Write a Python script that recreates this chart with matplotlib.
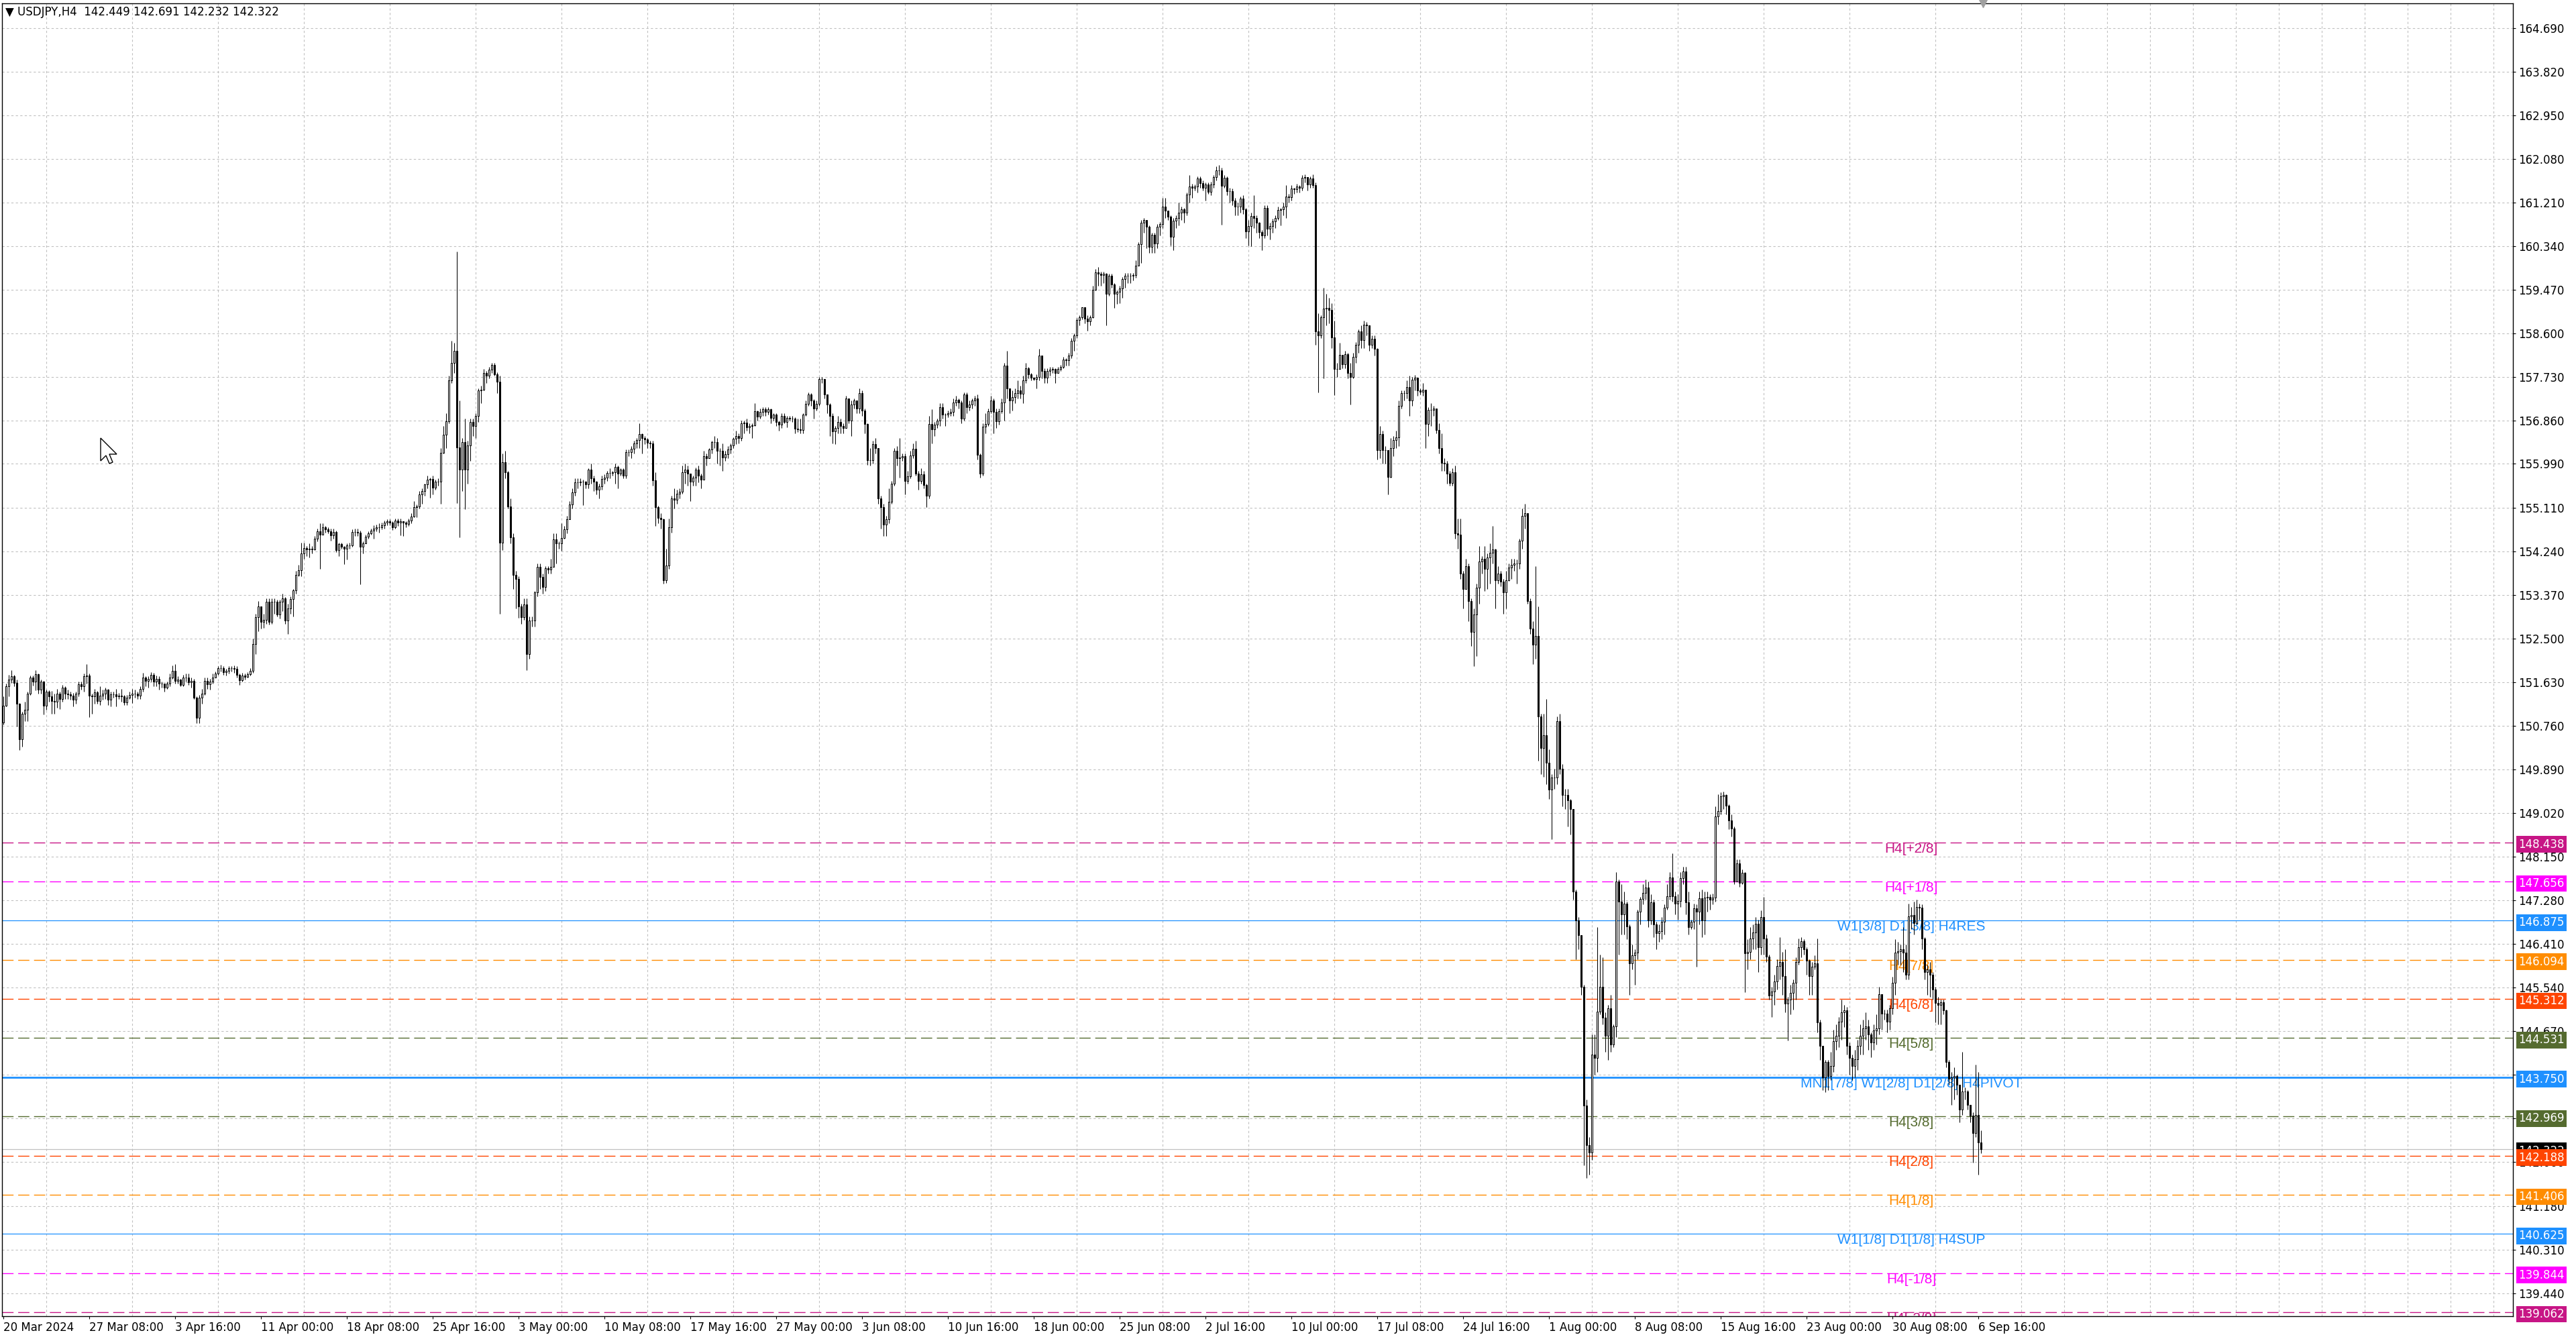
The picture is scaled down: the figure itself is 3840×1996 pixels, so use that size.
import matplotlib
matplotlib.use('Agg')
from matplotlib import pyplot as plt
from matplotlib.patches import Polygon
from matplotlib.transforms import IdentityTransform

# USDJPY H4 candles, 20 Mar 2024 00:00 .. 6 Sep 2024 20:00
first_open = 150.83

closes = [
    151.17,151.55,151.69,151.75,151.62,151.21,150.50,151.00,151.09,151.41,
    151.73,151.64,151.79,151.49,151.64,151.17,151.44,151.35,151.26,151.25,
    151.41,151.30,151.53,151.41,151.39,151.37,151.28,151.41,151.59,151.55,
    151.75,151.77,151.37,151.35,151.43,151.26,151.37,151.40,151.48,151.28,
    151.39,151.39,151.35,151.36,151.35,151.23,151.33,151.38,151.40,151.41,
    151.36,151.50,151.72,151.66,151.70,151.78,151.65,151.70,151.60,151.60,
    151.53,151.60,151.73,151.86,151.66,151.68,151.58,151.73,151.73,151.63,
    151.66,151.33,150.92,151.33,151.41,151.66,151.59,151.64,151.73,151.80,
    151.92,151.92,151.84,151.86,151.92,151.91,151.90,151.78,151.67,151.77,
    151.74,151.79,151.86,152.40,152.93,153.15,152.84,152.88,153.24,152.84,
    153.24,153.24,152.98,153.24,153.30,152.87,153.11,153.29,153.47,153.78,
    153.87,154.20,154.31,154.28,154.30,154.28,154.50,154.65,154.58,154.72,
    154.68,154.65,154.57,154.63,154.27,154.39,154.33,154.30,154.36,154.37,
    154.63,154.63,154.62,154.33,154.40,154.54,154.60,154.66,154.70,154.73,
    154.73,154.76,154.82,154.85,154.82,154.73,154.86,154.82,154.85,154.82,
    154.79,154.86,154.94,155.12,155.14,155.38,155.45,155.58,155.68,155.69,
    155.51,155.64,155.64,156.21,156.57,156.84,157.65,158.00,158.25,156.32,
    155.88,156.42,155.87,156.36,156.83,156.75,156.95,157.45,157.47,157.81,
    157.75,157.87,157.96,157.78,157.63,154.42,156.03,155.82,155.14,154.52,
    153.77,153.69,153.15,152.93,153.19,152.20,152.87,152.87,153.42,153.93,
    153.73,153.53,153.91,153.88,153.94,154.48,154.40,154.40,154.51,154.69,
    154.88,155.18,155.42,155.62,155.62,155.63,155.63,155.58,155.87,155.70,
    155.63,155.48,155.54,155.69,155.72,155.81,155.81,155.82,155.93,155.80,
    155.87,155.76,156.22,156.22,156.29,156.40,156.47,156.59,156.50,156.48,
    156.41,156.40,155.66,155.12,154.91,154.88,153.67,153.96,154.73,155.30,
    155.27,155.40,155.44,155.82,155.87,155.79,155.63,155.71,155.87,155.76,
    155.68,156.15,156.11,156.28,156.43,156.43,156.25,156.25,156.12,156.19,
    156.28,156.36,156.49,156.55,156.50,156.80,156.81,156.72,156.74,156.76,
    157.04,156.94,157.03,157.08,157.03,157.08,156.91,156.98,156.83,156.77,
    156.95,156.82,156.91,156.90,156.90,156.69,156.68,156.67,156.97,157.19,
    157.38,157.26,157.10,157.19,157.69,157.69,157.37,157.18,156.95,156.64,
    156.70,156.82,156.75,156.70,157.30,156.86,157.18,157.25,157.09,157.40,
    157.06,156.78,156.06,156.06,156.39,156.30,155.30,155.13,154.78,154.88,
    155.23,155.60,156.25,156.10,156.12,156.14,155.65,155.74,156.16,156.29,
    155.80,155.65,155.78,155.57,155.36,156.78,156.68,156.77,156.86,157.12,
    156.98,156.98,157.00,157.03,157.22,157.27,157.22,156.89,157.38,157.12,
    157.18,157.25,157.30,156.17,155.80,156.73,156.79,157.04,157.26,157.03,
    156.84,157.04,157.22,157.95,157.49,157.25,157.32,157.40,157.46,157.39,
    157.66,157.90,157.78,157.71,157.69,157.73,158.15,157.85,157.71,157.85,
    157.87,157.88,157.81,157.88,157.93,158.07,158.06,158.15,158.45,158.55,
    158.86,158.92,159.11,158.89,158.83,158.92,159.47,159.81,159.78,159.76,
    159.79,159.39,159.74,159.57,159.39,159.42,159.49,159.68,159.75,159.74,
    159.74,159.76,159.95,160.37,160.80,160.85,160.72,160.32,160.56,160.39,
    160.72,160.78,161.13,161.04,160.92,160.52,160.84,160.89,161.01,161.07,
    161.01,161.37,161.52,161.50,161.52,161.69,161.59,161.50,161.57,161.42,
    161.57,161.71,161.84,161.84,161.54,161.70,161.43,161.43,161.24,161.13,
    161.13,161.28,161.07,160.63,160.74,160.94,160.89,160.80,160.61,160.55,
    161.10,160.68,160.74,160.83,160.89,161.06,161.07,161.13,161.33,161.31,
    161.48,161.47,161.52,161.50,161.70,161.71,161.56,161.69,161.55,158.64,
    158.56,158.91,159.09,159.10,159.06,158.52,157.88,157.88,158.16,157.98,
    158.18,157.80,157.73,158.12,158.37,158.64,158.46,158.77,158.75,158.37,
    158.49,158.28,156.26,156.58,156.26,156.26,155.73,156.30,156.46,156.52,
    157.15,157.40,157.40,157.52,157.25,157.67,157.71,157.45,157.43,157.47,
    156.79,157.07,157.07,157.10,156.67,156.30,156.01,156.00,155.79,155.61,
    155.82,154.61,154.58,153.80,153.49,153.95,153.25,152.64,152.98,153.52,
    154.04,154.10,153.90,154.12,154.22,154.28,153.67,153.80,153.64,153.43,
    153.67,153.92,153.98,154.00,154.00,154.46,154.95,155.00,153.25,152.70,
    152.38,152.55,150.95,150.32,150.58,150.03,149.49,149.73,149.73,150.85,
    149.91,149.39,149.39,149.27,149.10,147.45,146.88,146.58,145.55,143.18,
    142.40,142.25,144.20,144.14,145.06,145.55,144.94,144.58,145.12,144.40,
    144.76,147.65,147.25,147.00,147.21,146.76,146.03,146.19,146.24,147.06,
    147.31,147.43,147.53,146.88,147.24,146.80,146.63,146.66,146.85,147.14,
    147.36,147.74,147.36,147.21,147.27,147.73,147.86,147.24,146.74,146.85,
    147.12,147.05,147.32,146.88,147.34,147.35,147.29,147.34,148.96,149.06,
    149.36,149.38,149.17,148.88,148.71,147.66,148.02,147.63,147.83,146.22,
    146.25,146.52,146.64,146.81,146.34,146.95,146.52,146.16,145.38,145.46,
    145.66,145.97,146.05,145.77,145.22,145.30,145.44,145.63,146.05,146.35,
    146.46,146.30,146.08,145.77,145.96,146.02,144.85,144.38,143.75,144.05,
    143.78,143.97,144.47,144.58,144.86,145.05,145.08,144.38,144.13,143.97,
    144.11,144.38,144.58,144.72,144.77,144.61,144.44,144.69,144.72,145.41,
    145.02,145.02,144.86,145.13,145.63,146.24,146.26,146.30,146.24,145.80,
    146.96,146.99,146.83,147.15,147.14,146.52,145.85,145.90,145.80,145.50,
    145.24,145.19,145.25,145.08,144.05,143.72,143.75,143.77,143.60,143.11,
    143.47,143.47,143.20,142.99,142.64,143.00,142.449,142.322,
]

highs = [
    151.35,151.60,151.78,151.88,151.78,151.68,151.22,151.05,151.25,151.45,
    151.77,151.77,151.88,151.80,151.68,151.66,151.48,151.47,151.46,151.40,
    151.50,151.45,151.58,151.55,151.48,151.45,151.42,151.45,151.65,151.64,
    151.80,152.00,151.80,151.40,151.50,151.46,151.55,151.48,151.52,151.50,
    151.45,151.44,151.50,151.42,151.50,151.38,151.38,151.45,151.50,151.48,
    151.45,151.55,151.82,151.75,151.75,151.84,151.82,151.76,151.75,151.65,
    151.60,151.65,151.80,151.97,152.00,151.75,151.70,151.78,151.80,151.80,
    151.72,151.70,151.35,151.38,151.50,151.72,151.72,151.70,151.80,151.85,
    151.96,151.98,151.95,151.90,151.96,151.95,151.97,151.95,151.80,151.82,
    151.80,151.84,151.92,152.50,153.00,153.25,153.10,153.00,153.30,153.30,
    153.30,153.30,153.28,153.28,153.40,153.33,153.20,153.35,153.50,153.85,
    153.98,154.42,154.42,154.35,154.40,154.35,154.55,154.70,154.80,154.80,
    154.75,154.72,154.70,154.70,154.66,154.42,154.42,154.35,154.40,154.42,
    154.68,154.70,154.70,154.66,154.45,154.58,154.65,154.70,154.76,154.78,
    154.80,154.82,154.86,154.88,154.88,154.85,154.90,154.90,154.90,154.85,
    154.84,154.90,155.00,155.25,155.18,155.45,155.50,155.60,155.75,155.72,
    155.75,155.68,155.70,156.30,156.75,157.00,157.75,158.45,158.40,160.23,
    157.25,156.50,156.90,156.45,156.90,156.90,157.00,157.50,157.55,157.88,
    157.85,157.92,158.00,158.00,157.82,157.75,156.20,156.25,155.85,155.30,
    154.60,153.85,153.75,153.20,153.30,153.30,152.95,152.95,153.45,154.00,
    154.00,153.80,153.95,153.95,154.10,154.60,154.60,154.45,154.80,154.75,
    154.95,155.25,155.50,155.70,155.70,155.70,155.68,155.65,155.90,156.00,
    155.75,155.65,155.60,155.75,155.78,155.85,155.90,155.85,156.00,155.95,
    155.90,155.90,156.28,156.28,156.35,156.45,156.50,156.80,156.60,156.55,
    156.50,156.45,156.45,155.82,155.15,155.00,154.90,154.30,154.90,155.35,
    155.50,155.48,155.50,155.95,156.00,155.95,155.80,155.75,155.92,155.95,
    155.80,156.25,156.20,156.30,156.45,156.55,156.50,156.30,156.40,156.25,
    156.35,156.40,156.52,156.65,156.60,156.85,156.85,156.90,156.80,156.80,
    157.20,157.05,157.10,157.12,157.12,157.12,157.10,157.00,157.00,156.85,
    157.00,157.00,156.95,156.95,156.95,156.92,156.90,156.90,157.00,157.25,
    157.42,157.40,157.28,157.25,157.72,157.72,157.55,157.35,157.20,157.00,
    156.75,156.95,156.90,156.80,157.35,157.30,157.25,157.30,157.25,157.50,
    157.45,157.10,156.80,156.30,156.45,156.50,156.30,155.35,155.20,154.95,
    155.50,155.65,156.30,156.35,156.50,156.20,156.20,155.85,156.25,156.40,
    156.45,155.85,155.90,155.85,155.60,156.95,157.08,156.82,156.90,157.20,
    157.20,157.00,157.05,157.10,157.30,157.35,157.30,157.25,157.42,157.42,
    157.25,157.30,157.35,157.38,156.20,156.80,157.00,157.10,157.35,157.30,
    157.10,157.10,157.30,158.00,158.25,157.50,157.45,157.50,157.65,157.55,
    157.75,158.00,157.92,157.80,157.72,157.78,158.28,158.15,157.90,157.90,
    157.92,157.92,157.90,157.92,157.96,158.12,158.10,158.20,158.50,158.60,
    158.90,158.95,159.12,159.10,158.95,158.96,159.55,159.88,159.92,159.82,
    159.82,159.80,159.78,159.78,159.60,159.45,159.55,159.72,159.80,159.80,
    159.80,159.80,160.05,160.42,160.85,160.90,160.78,160.75,160.60,160.60,
    160.78,160.82,161.30,161.30,161.05,160.95,160.90,160.95,161.20,161.12,
    161.10,161.40,161.75,161.58,161.56,161.72,161.72,161.65,161.60,161.60,
    161.62,161.75,161.93,161.95,161.90,161.75,161.72,161.50,161.48,161.30,
    161.20,161.32,161.35,161.10,160.85,161.00,161.35,160.95,160.82,160.65,
    161.15,161.15,160.80,160.88,160.95,161.12,161.10,161.20,161.55,161.38,
    161.55,161.50,161.58,161.55,161.75,161.77,161.62,161.72,161.77,161.60,
    159.00,158.95,159.50,159.38,159.30,159.20,158.85,158.00,158.40,158.12,
    158.25,158.20,158.00,158.20,158.42,158.68,158.75,158.85,158.82,158.60,
    158.55,158.55,158.30,156.75,156.65,156.35,156.20,156.50,156.55,156.65,
    157.25,157.45,157.45,157.65,157.75,157.72,157.76,157.55,157.50,157.60,
    157.45,157.12,157.20,157.15,157.10,156.80,156.60,156.10,156.05,155.85,
    155.90,155.95,154.90,154.90,153.85,154.10,154.00,153.30,153.10,153.60,
    154.35,154.15,154.35,154.20,154.40,154.75,154.30,153.95,153.85,153.70,
    153.85,154.00,154.10,154.10,154.08,154.50,155.10,155.20,155.00,153.30,
    152.85,153.95,153.15,151.00,151.00,151.30,150.30,149.80,149.90,150.95,
    151.00,150.00,149.50,149.50,149.30,149.10,147.50,146.95,146.40,145.60,
    143.30,142.55,144.60,144.60,146.75,146.20,146.15,145.05,145.20,145.40,
    144.80,147.85,147.70,147.60,147.45,147.25,146.80,146.40,146.30,147.10,
    147.35,147.60,147.70,147.65,147.40,147.30,146.85,146.80,146.95,147.20,
    147.60,147.85,148.22,147.45,147.40,147.85,147.95,147.95,147.45,146.90,
    147.22,147.20,147.45,147.50,147.45,147.45,147.40,147.42,149.15,149.40,
    149.44,149.45,149.40,149.20,149.00,148.75,148.10,148.10,147.90,147.85,
    146.50,146.75,146.80,146.95,146.90,147.08,147.35,146.60,146.20,145.55,
    145.80,146.10,146.55,146.25,146.30,145.35,145.60,145.70,146.15,146.52,
    146.55,146.50,146.35,146.10,146.05,146.18,146.52,144.90,144.20,144.10,
    144.10,144.25,144.70,144.80,144.95,145.30,145.20,145.15,144.45,144.20,
    144.30,144.50,144.80,144.90,145.05,144.90,144.65,144.80,145.00,145.55,
    145.40,145.10,145.10,145.20,145.75,146.50,146.45,146.40,146.75,146.40,
    147.22,147.15,147.25,147.30,147.22,147.20,146.55,146.00,146.05,145.85,
    145.55,145.35,145.30,145.30,145.10,144.10,143.85,143.95,143.80,143.60,
    144.25,143.55,143.50,143.20,143.05,144.00,143.85,142.691,
]

lows = [
    150.79,151.15,151.35,151.62,151.55,150.75,150.28,150.35,150.85,150.85,
    151.38,151.56,151.47,151.41,151.40,150.99,151.08,151.25,151.00,151.00,
    151.13,151.10,151.25,151.30,151.30,151.28,151.15,151.20,151.35,151.48,
    151.45,151.60,150.93,151.00,151.20,151.20,151.18,151.28,151.30,151.18,
    151.15,151.32,151.15,151.30,151.25,151.18,151.18,151.30,151.22,151.32,
    151.30,151.30,151.45,151.55,151.52,151.65,151.55,151.55,151.48,151.52,
    151.45,151.50,151.55,151.70,151.60,151.60,151.55,151.55,151.65,151.58,
    151.52,151.30,150.82,150.82,151.20,151.38,151.50,151.48,151.60,151.72,
    151.78,151.85,151.78,151.76,151.80,151.85,151.82,151.73,151.58,151.65,
    151.68,151.72,151.77,151.82,152.20,152.65,152.70,152.72,152.80,152.78,
    152.80,153.00,152.95,152.90,153.05,152.80,152.60,153.00,152.95,153.40,
    153.75,153.75,154.10,154.15,154.12,154.20,154.27,154.45,153.90,154.60,
    154.62,154.60,154.46,154.50,154.23,154.15,154.30,153.99,154.08,154.30,
    154.33,154.55,154.55,153.59,154.20,154.40,154.50,154.58,154.50,154.65,
    154.62,154.68,154.70,154.76,154.76,154.67,154.70,154.75,154.57,154.55,
    154.73,154.75,154.80,154.92,154.92,155.10,155.20,155.35,155.50,155.32,
    155.38,155.48,155.55,155.20,156.20,156.30,156.80,157.60,157.80,155.21,
    154.53,155.45,155.08,155.60,156.05,156.55,156.50,156.83,157.20,157.45,
    157.60,157.70,157.80,157.75,157.40,153.00,154.27,155.70,155.10,154.40,
    153.50,153.10,152.92,152.80,152.88,151.87,152.10,152.75,152.75,153.35,
    153.50,153.40,153.45,153.80,153.80,153.95,154.00,154.30,154.25,154.50,
    154.60,154.88,155.10,155.35,155.50,155.55,155.16,155.50,155.50,155.60,
    155.45,155.38,155.30,155.48,155.60,155.65,155.70,155.75,155.60,155.50,
    155.75,155.70,155.70,156.15,156.10,156.20,156.30,156.30,156.20,156.38,
    156.30,156.30,155.55,154.75,154.80,154.70,153.60,153.62,153.90,154.62,
    155.10,155.20,155.30,155.40,155.60,155.55,155.25,155.55,155.55,155.62,
    155.50,155.70,155.95,156.10,156.20,156.30,156.00,155.95,155.85,156.05,
    156.10,156.20,156.30,156.38,156.40,156.45,156.60,156.65,156.60,156.50,
    156.75,156.85,156.90,156.95,156.95,156.98,156.80,156.85,156.75,156.65,
    156.70,156.80,156.72,156.85,156.82,156.60,156.62,156.60,156.60,156.95,
    157.15,157.15,156.90,157.05,157.15,157.60,157.30,157.00,156.55,156.40,
    156.38,156.60,156.60,156.60,156.70,156.80,156.55,157.10,157.00,157.00,
    156.95,156.60,155.97,155.95,156.00,156.20,155.20,154.70,154.55,154.55,
    154.80,155.20,155.55,155.95,155.72,156.05,155.38,155.60,155.70,156.10,
    155.75,155.48,155.60,155.50,155.12,155.30,156.40,156.55,156.70,156.75,
    156.90,156.75,156.92,156.95,156.95,157.15,157.10,156.80,156.85,157.00,
    157.05,157.10,157.15,156.08,155.72,155.75,156.60,156.75,157.00,156.60,
    156.70,156.77,157.00,156.85,157.30,157.00,157.05,157.20,157.30,157.30,
    157.20,157.60,157.70,157.65,157.65,157.50,157.65,157.70,157.60,157.60,
    157.75,157.80,157.60,157.80,157.85,157.90,157.95,157.95,158.10,158.25,
    158.50,158.75,158.88,158.80,158.65,158.75,158.90,159.45,159.55,159.55,
    159.60,158.75,159.35,159.50,159.10,159.18,159.20,159.30,159.50,159.60,
    159.60,159.65,159.70,159.95,160.00,160.60,160.30,160.20,160.20,160.20,
    160.30,160.55,160.70,160.90,160.85,160.35,160.26,160.70,160.75,160.85,
    160.80,160.95,161.20,161.30,161.45,161.40,161.50,161.45,161.25,161.38,
    161.35,161.50,161.65,161.75,160.76,161.50,161.35,161.20,161.15,160.95,
    160.95,161.00,160.98,160.50,160.35,160.33,160.70,160.60,160.50,160.26,
    160.50,160.55,160.47,160.60,160.70,160.85,160.75,160.95,160.90,161.20,
    161.25,161.38,161.40,161.40,161.45,161.60,161.45,161.50,161.50,158.37,
    157.42,158.50,157.70,158.75,158.80,158.30,157.36,157.72,157.90,157.90,
    157.90,157.70,157.18,157.70,158.00,158.20,158.30,158.30,158.55,158.25,
    158.30,158.15,156.08,156.10,156.00,156.00,155.38,155.72,156.15,156.30,
    156.35,157.10,157.25,157.30,156.95,157.15,157.45,157.35,157.38,157.35,
    156.30,156.55,156.75,156.95,156.60,156.20,155.85,155.85,155.60,155.55,
    155.55,154.50,154.30,153.70,153.10,153.50,152.85,152.35,151.95,152.15,
    153.20,153.80,153.45,153.50,153.60,154.00,153.10,153.60,153.55,153.00,
    153.10,153.65,153.70,153.85,153.60,153.90,154.30,154.70,153.20,152.60,
    152.00,152.10,150.07,149.80,149.75,149.60,149.30,148.50,149.50,149.60,
    149.80,149.15,149.10,148.75,148.60,147.30,146.10,146.30,145.40,142.00,
    141.74,141.80,142.10,143.80,143.85,145.00,144.80,144.25,144.10,144.25,
    144.35,144.55,146.20,146.60,146.60,146.50,145.40,145.90,145.60,146.10,
    146.80,147.20,147.30,146.75,146.80,146.55,146.30,146.45,146.50,146.60,
    147.10,147.30,147.25,147.00,146.90,147.15,147.60,147.00,146.60,146.70,
    146.70,145.95,146.80,146.55,146.60,147.05,147.10,147.20,147.25,148.80,
    149.00,149.10,149.00,148.70,148.55,147.60,147.65,147.55,147.60,145.45,
    145.90,146.10,146.30,146.30,145.85,146.20,146.20,146.05,145.30,144.95,
    145.20,145.50,145.70,145.40,145.05,144.48,145.00,145.10,145.30,146.00,
    146.15,146.20,145.80,145.40,145.40,145.90,144.65,144.10,143.50,143.45,
    143.50,143.70,143.85,144.30,144.35,144.50,144.75,144.20,143.80,143.70,
    143.75,143.90,144.20,144.20,144.50,144.30,144.15,144.30,144.40,144.60,
    144.70,144.90,144.65,144.70,145.00,145.40,146.00,146.00,145.85,145.70,
    145.70,146.70,146.60,146.80,146.90,146.30,145.70,145.40,145.35,145.30,
    144.85,144.80,144.80,145.00,143.95,143.60,143.20,143.30,143.40,142.85,
    143.00,143.30,143.10,142.85,142.05,142.55,141.80,142.232,
]

# x axis labels, one every 32 bars
date_labels = ['20 Mar 2024', '27 Mar 08:00', '3 Apr 16:00', '11 Apr 00:00', '18 Apr 08:00',
               '25 Apr 16:00', '3 May 00:00', '10 May 08:00', '17 May 16:00', '27 May 00:00',
               '3 Jun 08:00', '10 Jun 16:00', '18 Jun 00:00', '25 Jun 08:00', '2 Jul 16:00',
               '10 Jul 00:00', '17 Jul 08:00', '24 Jul 16:00', '1 Aug 00:00', '8 Aug 08:00',
               '15 Aug 16:00', '23 Aug 00:00', '30 Aug 08:00', '6 Sep 16:00']

price_labels = ['164.690', '163.820', '162.950', '162.080', '161.210', '160.340', '159.470',
                '158.600', '157.730', '156.860', '155.990', '155.110', '154.240', '153.370',
                '152.500', '151.630', '150.760', '149.890', '149.020', '148.150', '147.280',
                '146.410', '145.540', '144.670', '143.800', '142.930', '142.060', '141.180',
                '140.310', '139.440']

# Murrey math levels
level_prices = [148.438, 147.656, 146.875, 146.094, 145.312, 144.531, 143.750,
                142.969, 142.188, 141.406, 140.625, 139.844, 139.062]
level_names = ['H4[+2/8]', 'H4[+1/8]', 'W1[3/8] D1[3/8] H4RES', 'H4[7/8]', 'H4[6/8]',
               'H4[5/8]', 'MN1[7/8] W1[2/8] D1[2/8] H4PIVOT', 'H4[3/8]', 'H4[2/8]',
               'H4[1/8]', 'W1[1/8] D1[1/8] H4SUP', 'H4[-1/8]', 'H4[-2/8]']
level_colors = ['#C71585', '#FF00FF', '#1E90FF', '#FF8C00', '#FF4500', '#556B2F', '#1E90FF',
                '#556B2F', '#FF4500', '#FF8C00', '#1E90FF', '#FF00FF', '#C71585']
level_solid = [False, False, True, False, False, False, True,
               False, False, False, True, False, False]

last_price = 142.322
header = '▼ USDJPY,H4  142.449 142.691 142.232 142.322'

assert len(closes) == len(highs) == len(lows), (len(closes), len(highs), len(lows))
n = len(closes)
x = list(range(n))
opens = [first_open] + closes[:-1]
highs = [max(h, o, c) for h, o, c in zip(highs, opens, closes)]
lows = [min(l, o, c) for l, o, c in zip(lows, opens, closes)]

W, H = 3840, 1996
fig = plt.figure(figsize=(W / 100, H / 100), dpi=100)
fig.patch.set_facecolor('white')
ax = fig.add_axes([3 / W, 1 - 1962 / H, (3746 - 3) / W, (1962 - 5) / H])
ax.set_xlim(-0.5, 935.25)
ax.set_ylim(138.982, 165.18)
ax.set_axisbelow(True)

# candles
ax.vlines(x, lows, highs, colors='black', linewidth=0.75, zorder=4)
bottoms = [min(o, c) for o, c in zip(opens, closes)]
heights = [abs(c - o) for o, c in zip(opens, closes)]
fills = ['white' if c >= o else 'black' for o, c in zip(opens, closes)]
ax.bar(x, heights, bottom=bottoms, width=0.55, color=fills, edgecolor='black',
       linewidth=0.75, zorder=5)

# levels, their names and price boxes
for p, name, col, solid in zip(level_prices, level_names, level_colors, level_solid):
    if solid:
        lw = 2.0 if 'PIVOT' in name else 0.9
        ax.axhline(p, color=col, linewidth=lw, zorder=2)
    else:
        ln = ax.axhline(p, color=col, linewidth=1.0, zorder=2)
        ln.set_dashes((12, 5))
    ax.text(711, p, name, color=col, fontsize=15, family='Liberation Sans',
            ha='center', va='top', zorder=2.2, clip_on=True)

ax.axhline(last_price, color='#C0C0C0', linewidth=0.9, zorder=2)
ax.annotate('%.3f' % last_price, xy=(1, last_price), xycoords=('axes fraction', 'data'),
            xytext=(8, -3), textcoords='offset pixels', ha='left', va='center',
            fontsize=12, color='white', zorder=6, annotation_clip=False,
            bbox=dict(boxstyle='square,pad=0.2', fc='black', ec='none'))
for p, col in zip(level_prices, level_colors):
    ax.annotate('%.3f' % p, xy=(1, p), xycoords=('axes fraction', 'data'),
                xytext=(8, -3), textcoords='offset pixels', ha='left', va='center',
                fontsize=12, color='white', zorder=7, annotation_clip=False,
                bbox=dict(boxstyle='square,pad=0.2', fc=col, ec='none'))

# axes, ticks, grid
ax.yaxis.tick_right()
ax.set_yticks([float(s) for s in price_labels])
ax.set_yticklabels(price_labels)
ax.set_xticks([32 * i for i in range(len(date_labels))])
ax.set_xticklabels(date_labels, ha='left')
ax.set_xticks(list(range(0, 936, 16)), minor=True)
ax.tick_params(axis='both', which='major', labelsize=12, length=3, width=0.8,
               color='black', labelcolor='black', pad=2.5)
ax.tick_params(axis='x', which='minor', length=0)
ax.grid(True, axis='y', which='major', color='#C0C0C0', linestyle=(0, (3, 3)), linewidth=0.8)
ax.grid(True, axis='x', which='minor', color='#C0C0C0', linestyle=(0, (3, 3)), linewidth=0.8)
for s in ax.spines.values():
    s.set_color('black')
    s.set_linewidth(1.0)

# chart shift marker at the top
ax.plot([737.75], [165.18], marker='v', markersize=9, color='#A0A0A0', clip_on=False, zorder=8)

# header
fig.text(8 / W, 1 - 18 / H, header, fontsize=12, color='black', va='center', ha='left')

# mouse pointer left on the chart
tip_x, tip_y = 150, H - 653
pts = [(0, 0), (0, 34), (8, 26), (13, 38), (18, 36), (13, 24), (24, 24)]
fig.add_artist(Polygon([(tip_x + a, tip_y - b) for a, b in pts], closed=True,
                       facecolor='white', edgecolor='black', linewidth=1.0,
                       transform=IdentityTransform(), zorder=10))

fig.savefig('out.png', dpi=100, facecolor='white')
